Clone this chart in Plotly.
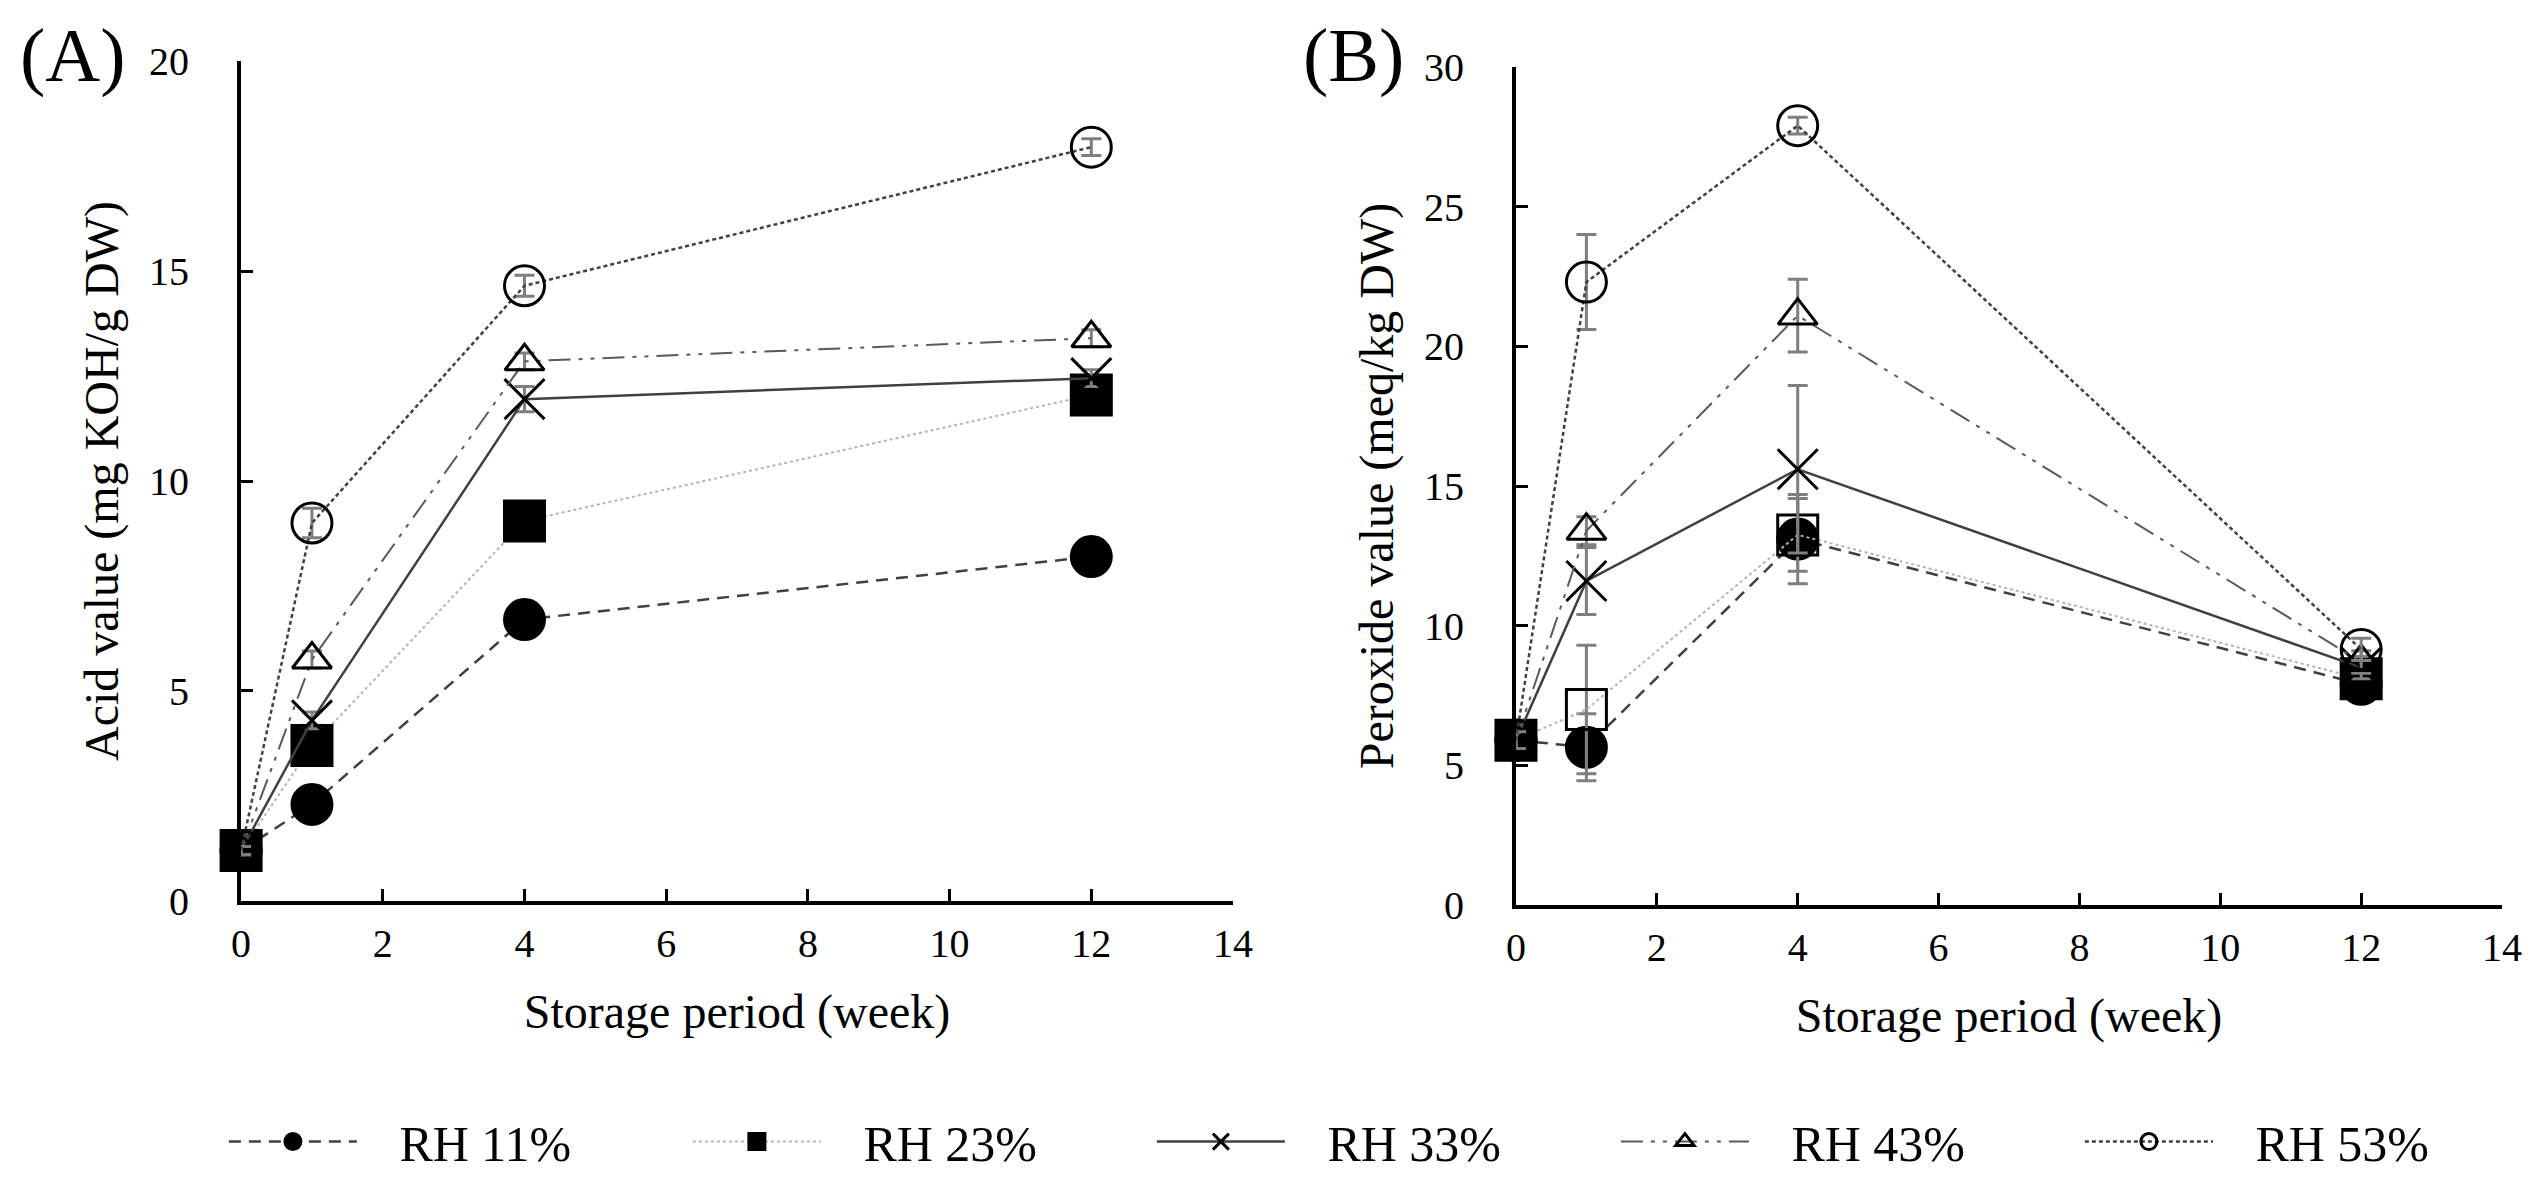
#import library
import plotly.graph_objects as go

#data
weeks = [0, 1, 4, 12]
series_names = ['RH 11%', 'RH 23%', 'RH 33%', 'RH 43%', 'RH 53%']

acid_rh11 = [1.2, 2.3, 6.7, 8.2]
acid_rh23 = [1.2, 3.7, 9.05, 12.05]
acid_rh33 = [1.2, 4.3, 11.95, 12.45]
acid_rh43 = [1.2, 5.75, 12.85, 13.4]
acid_rh53 = [1.2, 9.0, 14.65, 17.95]
acid_err_rh11 = [0.1, 0.15, 0.2, 0.2]
acid_err_rh23 = [0.1, 0.2, 0.2, 0.3]
acid_err_rh33 = [0.1, 0.2, 0.3, 0.2]
acid_err_rh43 = [0.1, 0.2, 0.2, 0.2]
acid_err_rh53 = [0.1, 0.35, 0.25, 0.2]

perox_rh11 = [5.9, 5.65, 13.1, 7.9]
perox_rh23 = [5.9, 7.0, 13.25, 8.1]
perox_rh33 = [5.9, 11.6, 15.6, 8.5]
perox_rh43 = [5.9, 13.4, 21.1, 8.7]
perox_rh53 = [5.9, 22.3, 27.9, 9.15]
perox_err_rh11 = [0.3, 1.2, 1.6, 0.3]
perox_err_rh23 = [0.3, 2.3, 1.3, 0.3]
perox_err_rh33 = [0.3, 1.2, 3.0, 0.4]
perox_err_rh43 = [0.3, 0.5, 1.3, 0.4]
perox_err_rh53 = [0.3, 1.7, 0.3, 0.4]

acid_values = [acid_rh11, acid_rh23, acid_rh33, acid_rh43, acid_rh53]
acid_errors = [acid_err_rh11, acid_err_rh23, acid_err_rh33, acid_err_rh43, acid_err_rh53]
perox_values = [perox_rh11, perox_rh23, perox_rh33, perox_rh43, perox_rh53]
perox_errors = [perox_err_rh11, perox_err_rh23, perox_err_rh33, perox_err_rh43, perox_err_rh53]

#styles per series
line_styles = [
    dict(color='#404040', width=2.5, dash='12px,8px'),
    dict(color='#b4b4b4', width=2, dash='dot'),
    dict(color='#404040', width=2.5, dash='solid'),
    dict(color='#5a5a5a', width=2, dash='22px,8px,4px,8px,4px,8px'),
    dict(color='#404040', width=2.5, dash='4px,3px'),
]
symbols_a = ['circle', 'square', 'x-thin-open', 'triangle-up-open', 'circle-open']
symbols_b = ['circle', ['square', 'square-open', 'square-open', 'square'], 'x-thin-open', 'triangle-up-open', 'circle-open']
marker_sizes = [40, 40, 40, 34, 40]

FONT = 'Liberation Serif'
NBSP = '\u00a0'

fig = go.Figure()

def addSeries(values, errors, symbols, xaxis, yaxis, show_legend):
    for i in range(len(series_names)):
        fig.add_trace(go.Scatter(
            x=weeks, y=values[i], name=NBSP * 3 + series_names[i],
            mode='lines+markers', xaxis=xaxis, yaxis=yaxis,
            line=line_styles[i],
            marker=dict(symbol=symbols[i], size=marker_sizes[i], color='black',
                        line=dict(color='black', width=3)),
            error_y=dict(type='data', array=errors[i], color='#7f7f7f', thickness=3, width=10),
            cliponaxis=False, showlegend=show_legend,
        ))

addSeries(acid_values, acid_errors, symbols_a, 'x', 'y', True)
addSeries(perox_values, perox_errors, symbols_b, 'x2', 'y2', False)

axis_common = dict(showline=True, linecolor='black', linewidth=4, ticks='inside', ticklen=12,
                   tickwidth=3, tickcolor='black', showgrid=False, zeroline=False, automargin=False,
                   tickfont=dict(family=FONT, size=40, color='black'))
title_font = dict(family=FONT, size=48, color='black')

fig.update_layout(
    width=2531, height=1187,
    paper_bgcolor='white', plot_bgcolor='white',
    font=dict(family=FONT, color='black'),
    margin=dict(l=0, r=0, t=0, b=0, autoexpand=False),
    xaxis=dict(domain=[0.0921, 0.484], range=[0, 14], dtick=2, anchor='y', ticklabelstandoff=4,
               title=dict(text='Storage period (week)', font=title_font, standoff=30),
               **axis_common),
    yaxis=dict(domain=[0.2477, 0.9553], range=[0, 20], dtick=5, anchor='x', ticklabelstandoff=40,
               title=dict(text='Acid value (mg KOH/g DW)', font=title_font, standoff=16),
               **axis_common),
    xaxis2=dict(domain=[0.5958, 0.9854], range=[0, 14], dtick=2, anchor='y2', ticklabelstandoff=4,
                title=dict(text='Storage period (week)', font=title_font, standoff=30),
                **axis_common),
    yaxis2=dict(domain=[0.2443, 0.9503], range=[0, 30], dtick=5, anchor='x2', ticklabelstandoff=40,
                title=dict(text='Peroxide value (meq/kg DW)', font=title_font, standoff=16),
                **axis_common),
    legend=dict(orientation='h', x=0.0853, y=0.045, xanchor='left', yanchor='middle',
                entrywidth=321, entrywidthmode='pixels', itemwidth=128,
                font=dict(family=FONT, size=50, color='black')),
    annotations=[
        dict(text='(A)', x=0.004, y=0.96, xref='paper', yref='paper', xanchor='left', yanchor='middle',
             showarrow=False, font=dict(family=FONT, size=76, color='black')),
        dict(text='(B)', x=0.511, y=0.96, xref='paper', yref='paper', xanchor='left', yanchor='middle',
             showarrow=False, font=dict(family=FONT, size=76, color='black')),
    ],
)

fig.write_html("out.html")
